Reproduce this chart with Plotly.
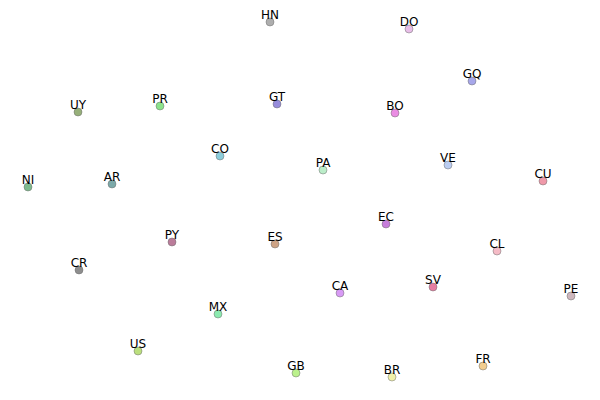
import plotly.graph_objects as go

codes = ["HN","DO","GQ","UY","PR","GT","BO","CO","PA","VE","CU","NI","AR",
         "PY","ES","EC","CL","CR","MX","CA","SV","PE","US","GB","BR","FR"]
xs = [270,409,472,78,160,277,395,220,323,448,543,28,112,
      172,275,386,497,79,218,340,433,571,138,296,392,483]
ys = [22,29,81,112,106,104,113,156,170,165,181,187,184,
      242,244,224,251,270,314,293,287,296,351,373,377,366]
colors = ["#a6a6a6","#e6b8e6","#9e9ee8","#8ca86c","#80e080","#8c80d8","#e880e0",
          "#80c8d8","#b4ecc4","#b4c8f0","#ee8ea0","#70b482","#6ea0a0",
          "#b46e90","#c89a78","#c070d8","#f4b4c0","#828282","#80e8a8","#d490f4",
          "#e47098","#c8b0b8","#b4dc70","#b4f080","#f0f0a0","#f0c884"]

fig = go.Figure()
fig.add_trace(go.Scatter(
    x=xs, y=ys, mode="markers",
    marker=dict(size=8, color=colors, opacity=0.9,
                line=dict(color="rgba(90,90,90,0.6)", width=0.8)),
    hoverinfo="skip", showlegend=False))
fig.add_trace(go.Scatter(
    x=xs, y=ys, mode="text", text=codes, textposition="top center",
    marker=dict(size=0),
    textfont=dict(family="DejaVu Sans", size=12, color="black"),
    hoverinfo="skip", showlegend=False))
fig.update_layout(
    width=600, height=400, margin=dict(l=0, r=0, t=0, b=0),
    paper_bgcolor="white", plot_bgcolor="white",
    xaxis=dict(range=[0, 600], visible=False),
    yaxis=dict(range=[400, 0], visible=False))
fig.write_html("out.html")
